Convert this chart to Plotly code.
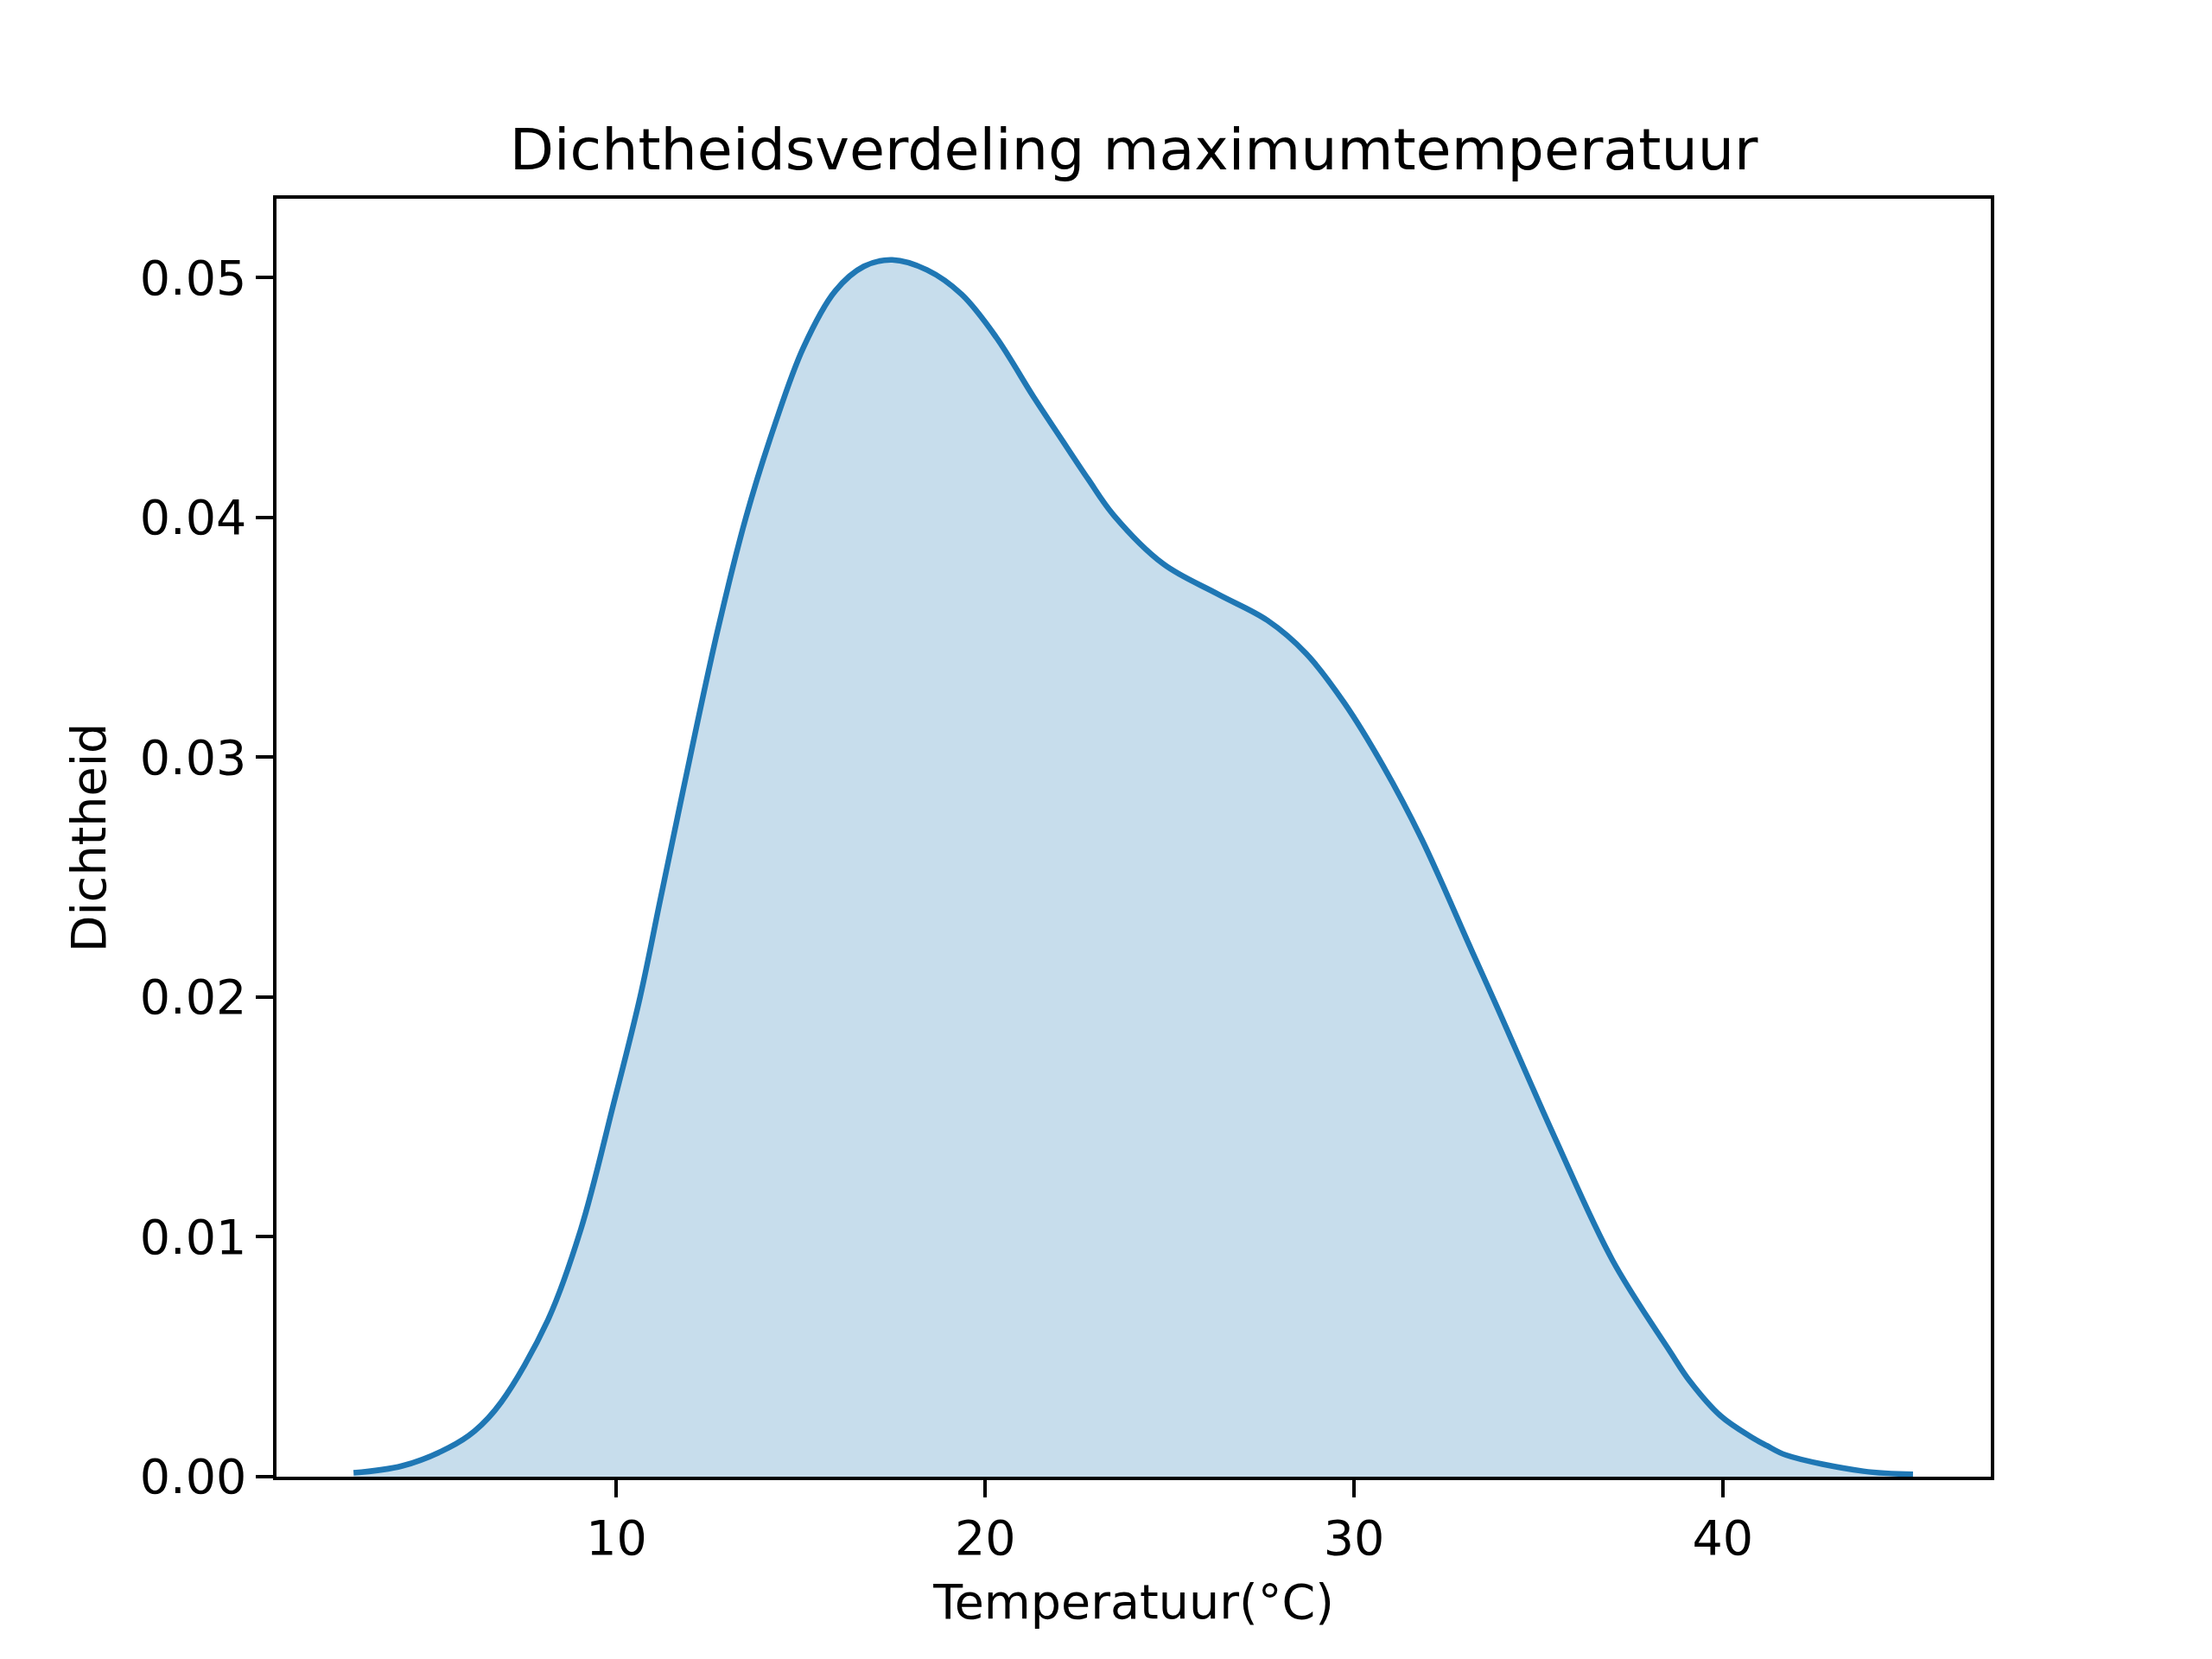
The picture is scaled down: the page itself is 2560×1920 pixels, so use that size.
import plotly.graph_objects as go

# KDE curve of the maximum temperature
temperatuur = [2.87, 4.19, 5.44, 6.15, 6.87, 8.13, 9.03, 9.93, 10.64, 11.18,
               11.79, 12.73, 13.51, 14.29, 15.07, 15.93, 16.71, 17.48, 18.42, 19.36,
               20.29, 21.31, 22.01, 22.79, 23.48, 24.83, 26.30, 27.65, 28.70, 29.74,
               30.79, 31.83, 33.19, 33.88, 35.45, 37.02, 38.58, 39.10, 39.94, 40.78,
               41.19, 41.72, 43.81, 45.16]
dichtheid = [0.00016, 0.00045, 0.0012, 0.0019, 0.0031, 0.0065, 0.0103, 0.0156, 0.0200, 0.0240,
             0.0285, 0.0352, 0.0400, 0.04385, 0.04709, 0.04944, 0.05047, 0.05074, 0.05032, 0.0493,
             0.04753, 0.04503, 0.0434, 0.0416, 0.0401, 0.03806, 0.03681, 0.03571, 0.03433, 0.03226,
             0.02964, 0.02661, 0.02195, 0.01959, 0.01413, 0.0090, 0.0052, 0.0040, 0.00254, 0.00165,
             0.0013, 0.0009, 0.00023, 0.0001]

x_ticks = [10, 20, 30, 40]
y_ticks = [0.00, 0.01, 0.02, 0.03, 0.04, 0.05]

fig = go.Figure(go.Scatter(x=temperatuur, y=dichtheid, mode="lines",
                           line=dict(color="#1f77b4", width=6.5, shape="spline", smoothing=1.0),
                           fill="tozeroy", fillcolor="rgba(31,119,180,0.25)"))

axis_style = dict(showline=True, mirror=True, linecolor="black", linewidth=4.4,
                  ticks="outside", ticklen=19.4, tickwidth=4.4, tickcolor="black",
                  showgrid=False, zeroline=False,
                  tickfont=dict(size=55.5, color="black"))

# page body adds an 8px offset, so the figure is 8px smaller and shifted
fig.update_layout(
    width=2552, height=1912,
    margin=dict(l=312, r=256, t=222, b=211),
    paper_bgcolor="white", plot_bgcolor="white",
    font=dict(family="DejaVu Sans", color="black"),
    showlegend=False,
    title=dict(text="Dichtheidsverdeling maximumtemperatuur", font=dict(size=66.7),
               x=(312 + 2296) / 2 / 2552, xanchor="center",
               yref="container", y=1 - 188 / 1912, yanchor="bottom"),
    xaxis=dict(axis_style, range=[0.78, 47.27], tickvals=x_ticks,
               title=dict(text="Temperatuur(°C)", font=dict(size=55.5), standoff=24)),
    yaxis=dict(axis_style, range=[0, 0.05329], tickvals=y_ticks, tickformat=".2f",
               title=dict(text="Dichtheid", font=dict(size=55.5), standoff=22)),
)

fig.write_html("out.html", config={"displayModeBar": False})
